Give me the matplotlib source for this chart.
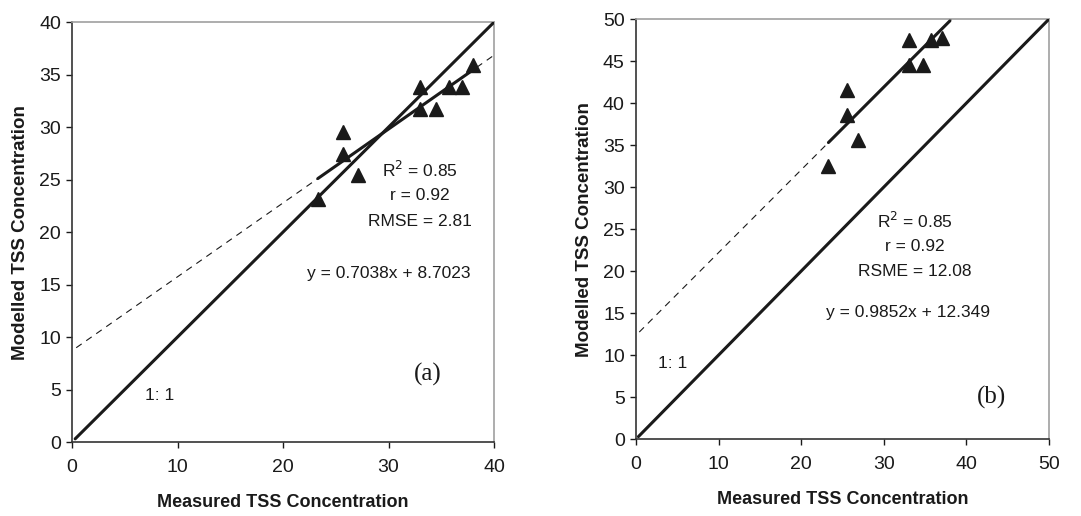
import numpy as np
import matplotlib
matplotlib.use("Agg")
import matplotlib.pyplot as plt

plt.rcParams["font.family"] = ["Liberation Sans", "DejaVu Sans"]

# panel (a)
meas_a = [23.3, 25.7, 25.7, 27.1, 33.0, 33.0, 34.5, 35.7, 37.0, 38.0]
mod_a = [23.2, 29.5, 27.4, 25.4, 33.8, 31.7, 31.7, 33.8, 33.8, 35.9]
slope_a, icpt_a = 0.7038, 8.7023
stats_a = ["R$^2$ = 0.85", "r = 0.92", "RMSE = 2.81"]
eq_a = "y = 0.7038x + 8.7023"

# panel (b)
meas_b = [23.3, 25.6, 25.6, 26.9, 33.0, 33.0, 34.7, 35.7, 37.0]
mod_b = [32.5, 41.5, 38.6, 35.6, 47.5, 44.5, 44.5, 47.5, 47.7]
slope_b, icpt_b = 0.9852, 12.349
stats_b = ["R$^2$ = 0.85", "r = 0.92", "RSME = 12.08"]
eq_b = "y = 0.9852x + 12.349"

ink = "#1a1a1a"

fig = plt.figure(figsize=(10.81, 5.16), dpi=100)
ax_a = fig.add_axes([0.0666, 0.1434, 0.3904, 0.8136])
ax_b = fig.add_axes([0.5883, 0.149, 0.3821, 0.814])


def panel(ax, mx, my, slope, icpt, lim, step, stats, eq, stat_xy, eq_xy,
          tag, tag_xy, one_xy, fit_end):
    # dashed regression extension
    xd = np.array([0.4, lim if slope * lim + icpt <= lim else (lim - icpt) / slope])
    ax.plot(xd, slope * xd + icpt, color=ink, lw=0.8, ls=(0, (6, 5)), zorder=2)
    # 1:1 line
    ax.plot([0.3, lim], [0.3, lim], color=ink, lw=2.2, solid_capstyle="round", zorder=3)
    # solid regression over data range
    xs = np.array([min(mx), fit_end])
    ax.plot(xs, slope * xs + icpt, color=ink, lw=2.2, solid_capstyle="round", zorder=3)
    ax.plot(mx, my, ls="none", marker="^", ms=10, color=ink, zorder=4)

    ax.set_xlim(0, lim)
    ax.set_ylim(0, lim)
    ax.set_xticks(np.arange(0, lim + 1, 10))
    ax.set_yticks(np.arange(0, lim + 1, step))
    ax.tick_params(direction="out", length=4, width=1, labelsize=14,
                   colors=ink)
    ax.tick_params(axis="x", pad=8)
    ax.tick_params(axis="y", pad=4)
    for s in ("top", "right"):
        ax.spines[s].set_color("#a0a0a0")
    for s in ("left", "bottom"):
        ax.spines[s].set_color("#333333")
    for s in ax.spines.values():
        s.set_linewidth(1.2)

    ax.set_xlabel("Measured TSS Concentration", fontsize=13, fontweight="bold",
                  color=ink, labelpad=13)
    ax.set_ylabel("Modelled TSS Concentration", fontsize=13.5, fontweight="bold",
                  color=ink, labelpad=7)

    sx, sy, dy = stat_xy
    for i, t in enumerate(stats):
        ax.text(sx, sy - i * dy, t, ha="center", va="center", fontsize=12.5,
                color=ink)
    ax.text(eq_xy[0], eq_xy[1], eq, ha="center", va="center", fontsize=12.5,
            color=ink)
    ax.text(tag_xy[0], tag_xy[1], tag, ha="center", va="center", fontsize=18,
            family="Liberation Serif", color=ink)
    ax.text(one_xy[0], one_xy[1], "1: 1", ha="center", va="center",
            fontsize=12.5, color=ink)


panel(ax_a, meas_a, mod_a, slope_a, icpt_a, 40, 5, stats_a, eq_a,
      (33.0, 25.9, 2.45), (30.0, 16.1), "(a)", (33.7, 6.4), (8.3, 4.4), 38.0)
panel(ax_b, meas_b, mod_b, slope_b, icpt_b, 50, 5, stats_b, eq_b,
      (33.8, 26.0, 3.05), (32.9, 15.1), "(b)", (43.0, 5.0), (4.4, 9.0), 38.0)

fig.savefig("out.png", dpi=100)
